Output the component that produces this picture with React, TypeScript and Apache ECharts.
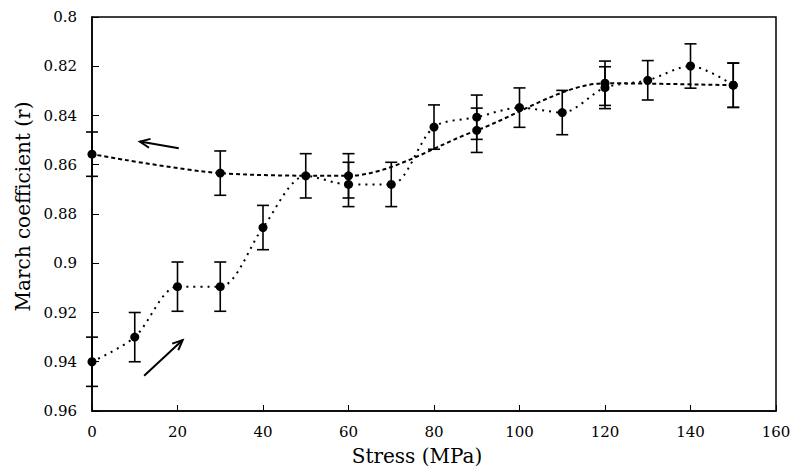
import React, { useEffect, useRef } from "react";
import * as echarts from "echarts";

// Loading branch (stress increasing)
const stressLoad = [0, 10, 20, 30, 40, 50, 60, 70, 80, 90, 100, 110, 120, 130, 140, 150];
const rLoad = [0.94, 0.93, 0.9095, 0.9095, 0.8855, 0.8645, 0.868, 0.868, 0.8447, 0.8407, 0.8368, 0.8388, 0.8287, 0.8257, 0.8199, 0.8277];
const errLoad = [0.01, 0.01, 0.01, 0.01, 0.009, 0.009, 0.009, 0.009, 0.009, 0.009, 0.008, 0.009, 0.0085, 0.008, 0.009, 0.009];

// Unloading branch (stress decreasing)
const stressUnload = [150, 120, 90, 60, 30, 0];
const rUnload = [0.8277, 0.8269, 0.846, 0.8645, 0.8634, 0.8557];
const errUnload = [0.009, 0.009, 0.009, 0.009, 0.009, 0.009];

// Annotation arrows: [tailX, tailY, headX, headY] in data units
const arrows = [
  [20.3, 0.8533, 11.2, 0.8506],
  [12.2, 0.9457, 21.2, 0.9312],
];

const yTicks = { min: 0.8, max: 0.96, interval: 0.02 };
const xTicks = { min: 0, max: 160, interval: 20 };

const FONT = "DejaVu Serif";

export default function App() {
  const ref = useRef<HTMLDivElement>(null);
  useEffect(() => {
    if (!ref.current) return;
    const chart = echarts.init(ref.current, null, { renderer: "svg" });

    const errData = [
      ...stressLoad.map((x, i) => [x, rLoad[i] - errLoad[i], rLoad[i] + errLoad[i]]),
      ...stressUnload.map((x, i) => [x, rUnload[i] - errUnload[i], rUnload[i] + errUnload[i]]),
    ];

    const errorBarItem = (params: any, api: any) => {
      const x = api.value(0);
      const p1 = api.coord([x, api.value(1)]);
      const p2 = api.coord([x, api.value(2)]);
      const hw = 6;
      const style = { stroke: "#000", lineWidth: 1.6 };
      return {
        type: "group",
        children: [
          { type: "line", shape: { x1: p1[0], y1: p1[1], x2: p2[0], y2: p2[1] }, style },
          { type: "line", shape: { x1: p1[0] - hw, y1: p1[1], x2: p1[0] + hw, y2: p1[1] }, style },
          { type: "line", shape: { x1: p2[0] - hw, y1: p2[1], x2: p2[0] + hw, y2: p2[1] }, style },
        ],
      };
    };

    const arrowItem = (params: any, api: any) => {
      const t = api.coord([api.value(0), api.value(1)]);
      const h = api.coord([api.value(2), api.value(3)]);
      const ang = Math.atan2(h[1] - t[1], h[0] - t[0]);
      const L = 11;
      const spread = 0.42;
      const a1 = [h[0] - L * Math.cos(ang - spread), h[1] - L * Math.sin(ang - spread)];
      const a2 = [h[0] - L * Math.cos(ang + spread), h[1] - L * Math.sin(ang + spread)];
      const style = { stroke: "#000", lineWidth: 2, fill: "none" };
      return {
        type: "group",
        children: [
          { type: "line", shape: { x1: t[0], y1: t[1], x2: h[0], y2: h[1] }, style },
          { type: "polyline", shape: { points: [a1, h, a2] }, style },
        ],
      };
    };

    chart.setOption({
      animation: false,
      backgroundColor: "#fff",
      textStyle: { fontFamily: FONT },
      grid: {
        left: 92,
        right: 17,
        top: 17,
        bottom: 63,
        containLabel: false,
        outerBoundsMode: "none",
        show: true,
        borderColor: "#000",
        borderWidth: 1.5,
        backgroundColor: "transparent",
      },
      xAxis: {
        type: "value",
        min: xTicks.min,
        max: xTicks.max,
        interval: xTicks.interval,
        name: "Stress (MPa)",
        nameLocation: "middle",
        nameGap: 35,
        nameTextStyle: { fontFamily: FONT, fontSize: 20, color: "#000", padding: [0, 34, 0, 0] },
        axisLine: { lineStyle: { color: "#000", width: 1.5 } },
        axisTick: { inside: true, length: 6, lineStyle: { color: "#000", width: 1 } },
        axisLabel: { fontFamily: FONT, fontSize: 15, color: "#000", margin: 13 },
        splitLine: { show: false },
      },
      yAxis: {
        type: "value",
        inverse: true,
        min: yTicks.min,
        max: yTicks.max,
        interval: yTicks.interval,
        name: "March coefficient (r)",
        nameLocation: "middle",
        nameGap: 58,
        nameRotate: 90,
        nameTextStyle: { fontFamily: FONT, fontSize: 20, color: "#000", padding: [0, 0, 0, 15] },
        axisLine: { lineStyle: { color: "#000", width: 1.5 } },
        axisTick: { inside: true, length: 7, lineStyle: { color: "#000", width: 1 } },
        axisLabel: {
          fontFamily: FONT,
          fontSize: 15,
          color: "#000",
          margin: 15,
          formatter: (v: number) => String(parseFloat(v.toFixed(2))),
        },
        splitLine: { show: false },
      },
      series: [
        {
          type: "custom",
          name: "errors",
          renderItem: errorBarItem,
          data: errData,
          encode: { x: 0, y: [1, 2] },
          clip: false,
          z: 2,
        },
        {
          type: "line",
          name: "Loading",
          data: stressLoad.map((x, i) => [x, rLoad[i]]),
          smooth: 0.3,
          symbol: "circle",
          symbolSize: 9,
          itemStyle: { color: "#000" },
          lineStyle: { color: "#000", width: 2, type: [2, 5] },
          clip: false,
          z: 3,
        },
        {
          type: "line",
          name: "Unloading",
          data: stressUnload.map((x, i) => [x, rUnload[i]]),
          smooth: 0.3,
          symbol: "circle",
          symbolSize: 9,
          itemStyle: { color: "#000" },
          lineStyle: { color: "#000", width: 2, type: [4, 3] },
          clip: false,
          z: 3,
        },
        {
          type: "custom",
          name: "arrows",
          renderItem: arrowItem,
          data: arrows,
          encode: { x: [0, 2], y: [1, 3] },
          clip: false,
          z: 4,
        },
      ],
    });
    return () => chart.dispose();
  }, []);
  return (
    <div
      ref={ref}
      style={{ position: "fixed", left: 0, top: 0, width: 793, height: 474, background: "#fff" }}
    />
  );
}
